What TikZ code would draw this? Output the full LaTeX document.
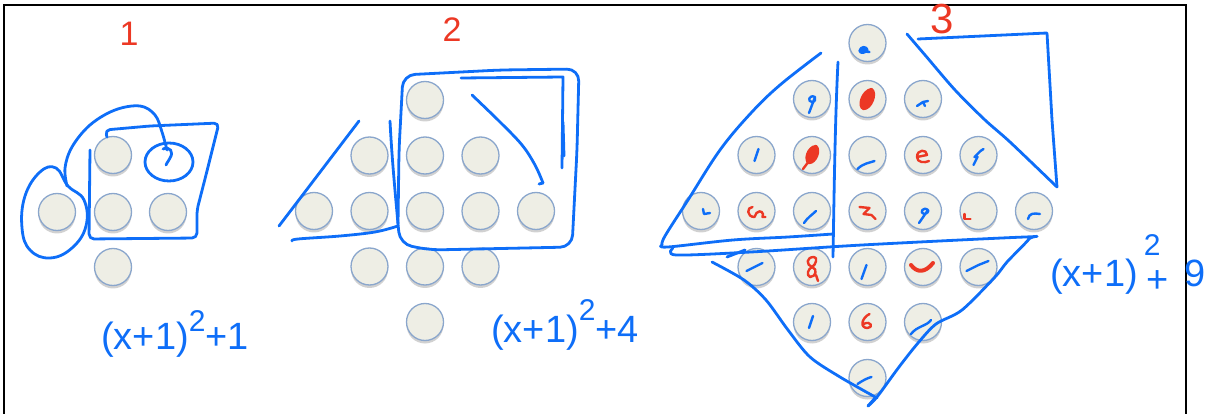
\documentclass[tikz,border=0pt]{standalone}
\usepackage{fontspec}
\setmainfont{Liberation Sans}
\usetikzlibrary{shadows}
\definecolor{inkblue}{RGB}{14,110,248}
\definecolor{inkred}{RGB}{236,56,36}
\definecolor{dotfill}{RGB}{238,238,229}
\definecolor{dotedge}{RGB}{138,166,204}
\tikzset{
  dot/.style={circle, minimum size=37pt, inner sep=0pt, fill=dotfill, draw=dotedge, line width=1.3pt,
    drop shadow={shadow xshift=0pt, shadow yshift=-3pt, opacity=0.3, fill=black!60}},
  ink/.style={draw=inkblue, line width=2.8pt, line cap=round, line join=round},
  bmk/.style={draw=inkblue, line width=2.4pt, line cap=round, line join=round},
  rmk/.style={draw=inkred, line width=2.4pt, line cap=round, line join=round},
  frame/.style={draw=black, line width=2pt},
  lbl/.style={text=inkred, font=\fontsize{34}{34}\selectfont, inner sep=0pt},
  fml/.style={text=inkblue, font=\fontsize{38}{38}\selectfont, inner sep=0pt, anchor=base west}
}
\newcommand\inkmark[3]{\begin{scope}[shift={(#1.center)}]\draw[#2] #3;\end{scope}}
\newcommand\sqr[1]{\raisebox{#1}{\fontsize{30}{30}\selectfont 2}}
\begin{document}
\begin{tikzpicture}[x=1pt,y=-1pt]
\useasboundingbox (0,0) rectangle (1216,414);
% frame
\draw[frame] (4,414) -- (4,5) -- (1186,5) -- (1186,414);

% ---------- diagram 1 ----------
\node[dot] (a1) at (113,155) {};
\node[dot] (a2) at (57,212) {};
\node[dot] (a3) at (113,212) {};
\node[dot] (a4) at (168,212) {};
\node[dot] (a5) at (113,267) {};
\node[lbl] (n1) at (129,34) {1};
% loop around left dot
\draw[ink] plot[smooth cycle, tension=0.7] coordinates {(68,186) (84,200) (86,226) (72,248) (50,258) (30,250) (22,228) (25,196) (40,172) (56,168)};
% arc to small circle
\draw[ink] plot[smooth, tension=0.6] coordinates {(67,186) (65,168) (72,147) (90,125) (115,110) (140,106) (155,115) (162,132) (167,150)};
\draw[ink] (163,149) .. controls (170,146) and (174,152) .. (170,158) .. controls (168,162) and (166,164) .. (166,165);
\draw[ink] (169,162) ellipse [x radius=24, y radius=19];
% square
\draw[ink, rounded corners=5pt] (107,137) -- (105,130) -- (150,126) -- (219,123) -- (206,175) -- (197,210) -- (197,238) -- (89,239) -- (90,150);
\node[fml] (f1) at (101,349) {(x+1)\sqr{18pt}+1};

% ---------- diagram 2 ----------
\foreach \r/\y/\a/\b in {1/100/3/3, 2/155.5/2/4, 3/211/1/5, 4/266.5/2/4, 5/322/3/3}
  \foreach \k in {\a,...,\b}
    \node[dot] (b\r\k) at ({314+55.5*(\k-1)},\y) {};
\node[lbl] (n2) at (452,30) {2};
\draw[ink] (359,121) -- (279,226);
\draw[ink] plot[smooth, tension=0.6] coordinates {(292,241) (298,239) (340,236) (375,232) (398,226)};
\draw[ink] (390,121) .. controls (392,160) and (395,190) .. (398,224);
\draw[ink, rounded corners=12pt] (398,224) -- (400,244) -- (430,250) -- (572,247) -- (577,150) -- (579,69) -- (500,70) -- (403,75) -- (399,150) -- (398,224);
\draw[ink] (461,78) -- (563,77) -- (562,168);
\draw[ink] (563,122) -- (564,156);
\draw[ink] plot[smooth, tension=0.6] coordinates {(472,95) (500,122) (522,145) (535,165) (543,183)};
\draw[ink] (543,183) -- (539,184);
\node[fml] (f2) at (491,342) {(x+1)\sqr{22pt}+4};

% ---------- diagram 3 ----------
\foreach \r/\y/\a/\b in {1/43/4/4, 2/99/3/5, 3/155/2/6, 4/211/1/7, 5/267/2/6, 6/322/3/5, 7/378/4/4}
  \foreach \k in {\a,...,\b}
    \node[dot] (c\r\k) at ({701+55.5*(\k-1)},\y) {};
\node[lbl, font=\fontsize{42}{42}\selectfont] (n3) at (942,19) {3};
% marks in the dots
\inkmark{c14}{bmk, fill=inkblue}{(-8,8) .. controls (-7,3) and (-1,3) .. (0,7) .. controls (-2,10) and (-7,11) .. (-8,8) -- (2,9)}
\inkmark{c23}{bmk}{(3,-2) .. controls (-3,-5) and (-5,3) .. (0,3) .. controls (3,3) and (4,0) .. (3,-2) -- (-3,14)}
\inkmark{c24}{rmk, fill=inkred}{(4,-10) .. controls (10,-6) and (4,10) .. (-4,10) .. controls (-10,8) and (-6,-8) .. (4,-10)}
\inkmark{c25}{bmk}{(-6,7) -- (0,3) -- (5,2) (0,3) -- (2,7)}
\inkmark{c32}{bmk}{(2,-6) -- (-2,6)}
\inkmark{c33}{rmk, fill=inkred}{(4,-9) .. controls (9,-5) and (4,8) .. (-3,8) .. controls (-8,6) and (-5,-8) .. (4,-9) (-3,6) -- (-9,14)}
\inkmark{c34}{bmk}{(-10,14) .. controls (-4,8) and (2,8) .. (7,6)}
\inkmark{c35}{rmk}{(-6,2) -- (4,0) .. controls (4,-6) and (-6,-6) .. (-6,2) .. controls (-6,8) and (2,8) .. (6,6)}
\inkmark{c36}{bmk}{(-5,10) -- (-1,2) -- (-4,2) -- (2,-4) -- (5,-6)}
\inkmark{c41}{bmk}{(2,-2) -- (3,3) -- (9,2)}
\inkmark{c42}{rmk}{(-4,-4) .. controls (-10,-4) and (-10,6) .. (-2,6) -- (0,2) .. controls (4,-2) and (8,2) .. (6,6) -- (9,6)}
\inkmark{c43}{bmk}{(-8,12) .. controls (-4,6) and (0,4) .. (4,0)}
\inkmark{c44}{rmk}{(-8,-4) -- (2,-3) -- (-4,3) -- (4,4) -- (8,8)}
\inkmark{c45}{bmk}{(5,-1) .. controls (0,-5) and (-4,2) .. (1,3) .. controls (4,3) and (6,0) .. (5,-1) -- (-4,12)}
\inkmark{c46}{rmk}{(-14,3) -- (-14,8) -- (-8,8)}
\inkmark{c47}{bmk}{(-6,8) .. controls (-5,2) and (0,2) .. (6,3)}
\inkmark{c52}{bmk}{(-10,4) -- (6,-4)}
\inkmark{c53}{rmk}{(2,-10) .. controls (-6,-10) and (-6,-2) .. (0,0) .. controls (6,2) and (4,10) .. (-2,10) .. controls (-6,8) and (-4,2) .. (0,0) .. controls (4,-2) and (6,-10) .. (2,-10) (4,8) -- (6,14)}
\inkmark{c54}{bmk}{(-6,12) -- (-1,-2)}
\inkmark{c55}{rmk, line width=4pt}{(-12,-2) .. controls (-6,6) and (2,6) .. (10,-4)}
\inkmark{c56}{bmk}{(-12,4) -- (0,-2) -- (10,-6)}
\inkmark{c63}{bmk}{(1,-6) -- (-3,6)}
\inkmark{c64}{rmk}{(2,-8) .. controls (-6,-4) and (-8,6) .. (0,6) .. controls (6,6) and (4,-2) .. (-4,2)}
\inkmark{c65}{bmk}{(-12,12) .. controls (-6,4) and (4,4) .. (8,-2)}
\inkmark{c74}{bmk}{(-10,6) .. controls (-4,2) and (0,0) .. (4,-1)}
% right triangle
\draw[ink] (918,39) -- (1047,33) -- (1052,120) -- (1057,187);
\draw[ink] plot[smooth, tension=0.5] coordinates {(907,34) (925,55) (955,90) (985,120) (1010,142) (1057,187)};
% upper-left triangle
\draw[ink] plot[smooth, tension=0.6] coordinates {(821,53) (780,85) (751,113) (720,150) (688,200) (665,236) (662,245)};
\draw[ink] plot[smooth, tension=0.6] coordinates {(662,245) (668,247) (733,240) (788,237) (833,234)};
\draw[ink] (838,62) .. controls (835,120) and (834,200) .. (833,257);
% lower diamond
\draw[ink] plot[smooth, tension=0.5] coordinates {(673,248) (676,255) (751,252) (862,245) (1025,237) (1029,239) (1007,262) (995,277) (962,310) (936,324) (918,343) (899,367) (877,397) (868,406)};
\draw[ink] (868,406) -- (875,398);
\draw[ink] plot[smooth, tension=0.5] coordinates {(712,262) (744,280) (766,300) (788,330) (810,357) (840,377) (877,398)};
\draw[ink] (727,257) -- (745,250);
\node[fml] (f3) at (1050,287) {(x+1)\hspace{6pt}\sqr{32pt}\hspace{-14pt}\raisebox{-6pt}{+}\hspace{16pt}9};
\end{tikzpicture}
\end{document}
